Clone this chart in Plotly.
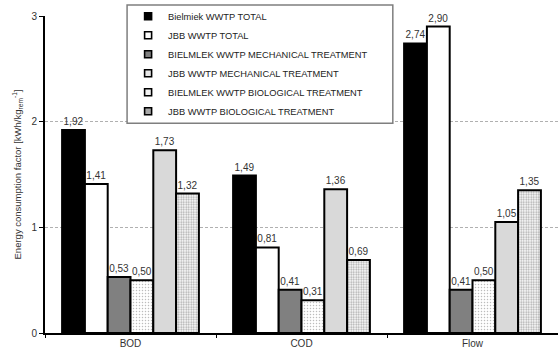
import plotly.graph_objects as go

categories = ["BOD", "COD", "Flow"]
series_names = [
    "Bielmiek WWTP TOTAL",
    "JBB WWTP TOTAL",
    "BIELMLEK WWTP MECHANICAL TREATMENT",
    "JBB WWTP MECHANICAL TREATMENT",
    "BIELMLEK WWTP BIOLOGICAL TREATMENT",
    "JBB WWTP BIOLOGICAL TREATMENT",
]
bielmlek_total = [1.92, 1.49, 2.74]
jbb_total = [1.41, 0.81, 2.90]
bielmlek_mech = [0.53, 0.41, 0.41]
jbb_mech = [0.50, 0.31, 0.50]
bielmlek_bio = [1.73, 1.36, 1.05]
jbb_bio = [1.32, 0.69, 1.35]
y_ticks = [0, 1, 2, 3]

series_values = [bielmlek_total, jbb_total, bielmlek_mech, jbb_mech, bielmlek_bio, jbb_bio]
fills = ["#000000", "#ffffff", "#808080", "#ffffff", "#d9d9d9", "#ffffff"]
legend_fills = ["#000000", "#ffffff", "#808080", "#e6e6e6", "#f2f2f2", "#a8a8a8"]
patterns = [
    None,
    None,
    None,
    dict(shape=".", size=3, solidity=0.2, fgcolor="#7a7a7a", bgcolor="#ffffff"),
    None,
    dict(shape=".", size=2.5, solidity=0.45, fgcolor="#555555", bgcolor="#ffffff"),
]

FONT = "Liberation Sans, Arial, sans-serif"
fig = go.Figure()
for name, vals, fc, pat in zip(series_names, series_values, fills, patterns):
    marker = dict(color=fc, line=dict(color="#000000", width=2))
    if pat:
        marker["pattern"] = pat
    fig.add_trace(go.Bar(
        x=categories, y=vals, name=name, marker=marker,
        texttemplate="%{y:.2f}", textposition="outside", cliponaxis=False,
        textfont=dict(family=FONT, size=10, color="#333333"),
        showlegend=False, legendgroup=name,
    ))
# small square legend keys like the reference
for name, lf in zip(series_names, legend_fills):
    fig.add_trace(go.Scatter(
        x=[None], y=[None], mode="markers", name=name, legendgroup=name,
        marker=dict(symbol="square", size=7, color=lf,
                    line=dict(color="#000000", width=1.6)),
    ))

fig.update_layout(
    width=558, height=352,
    margin=dict(l=45, r=0, t=16, b=19, autoexpand=False),
    paper_bgcolor="#ffffff", plot_bgcolor="#ffffff",
    barmode="group", bargap=0.2, bargroupgap=0,
    separators=", ",
    font=dict(family=FONT, size=10, color="#333333"),
    showlegend=True,
    legend=dict(
        x=0.162, y=1.045, xanchor="left", yanchor="top",
        bgcolor="rgba(0,0,0,0)", borderwidth=0,
        font=dict(family=FONT, size=9.3, color="#222222"),
        tracegroupgap=0,
    ),
    shapes=[dict(
        type="rect", xref="paper", yref="paper",
        x0=0.160, x1=0.678, y0=0.662, y1=1.035,
        line=dict(color="#7f7f7f", width=1.5), fillcolor="#ffffff", layer="above",
    )],
)
fig.update_xaxes(
    type="category", showline=True, linecolor="#000000", linewidth=2,
    ticks="outside", tickson="boundaries", ticklen=3, tickcolor="#000000",
    showgrid=False, tickfont=dict(family=FONT, size=10, color="#333333"),
)
fig.update_yaxes(
    range=[0, 3], tickvals=y_ticks, showline=True, linecolor="#000000", linewidth=2,
    ticks="outside", ticklen=4, tickcolor="#000000",
    showgrid=True, gridcolor="#b0b0b0", griddash="3px,2px", gridwidth=1,
    zeroline=False,
    tickfont=dict(family=FONT, size=10, color="#333333"),
    title=dict(text="Energy consumption factor [kWh/kg<sub>rem</sub><sup>-1</sup>]",
               font=dict(family=FONT, size=9.5, color="#333333"), standoff=8),
)

fig.write_html("out.html", config={"displayModeBar": False},
               post_script="document.body.style.margin='0';")
